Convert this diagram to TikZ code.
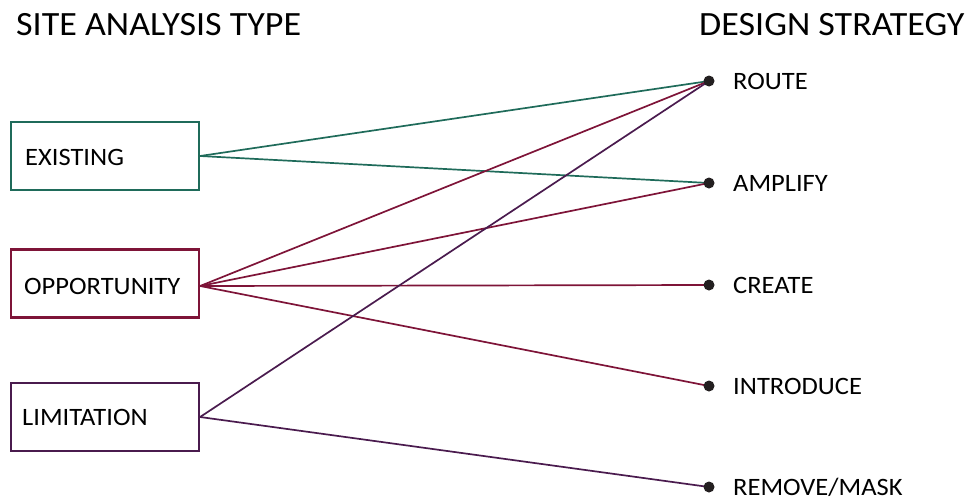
\documentclass[tikz,border=0pt]{standalone}
\usepackage{fontspec}
\setmainfont{Carlito}[FakeStretch=1.06]
\definecolor{exgreen}{HTML}{1F6B5A}
\definecolor{opred}{HTML}{7E1438}
\definecolor{limpurple}{HTML}{4A1B4E}
\definecolor{dotgray}{HTML}{231F20}
\begin{document}
\begin{tikzpicture}[x=1pt,y=-1pt,
  heading/.style={anchor=base west,inner sep=0pt,font=\fontsize{34}{40}\selectfont},
  typebox/.style={draw,line width=2.2pt,minimum width=188pt,minimum height=68pt,inner sep=0pt},
  boxlabel/.style={anchor=west,inner sep=0pt,font=\fontsize{25}{30}\selectfont},
  stratdot/.style={circle,fill=dotgray,minimum size=11pt,inner sep=0pt},
  stratlabel/.style={anchor=west,inner sep=0pt,font=\fontsize{25}{30}\selectfont},
  link/.style={line width=1.7pt}]
\useasboundingbox (0,0) rectangle (976,501);

% column headings
\node[heading] (hleft) at (16,35) {SITE ANALYSIS TYPE};
\node[heading] (hright) at (699,35) {DESIGN STRATEGY};

% site analysis type boxes
\node[typebox,draw=exgreen] (existing) at (105,156) {};
\node[typebox,draw=opred] (opportunity) at (105,283.5) {};
\node[typebox,draw=limpurple] (limitation) at (105,417) {};
\node[boxlabel] (lexisting) at (25,157) {EXISTING};
\node[boxlabel] (lopportunity) at (24,286) {OPPORTUNITY};
\node[boxlabel] (llimitation) at (22,417) {LIMITATION};

% fan-out points on the right edge of each box
\coordinate (exout) at (existing.east);
\coordinate (opout) at ([yshift=-2.5pt]opportunity.east);
\coordinate (limout) at (limitation.east);

% strategy anchors
\coordinate (route) at (709,81);
\coordinate (amplify) at (709,183);
\coordinate (create) at (709,285);
\coordinate (introduce) at (709,386);
\coordinate (remove) at (709,487);

% connectors
\draw[link,exgreen] (exout) -- (route);
\draw[link,exgreen] (exout) -- (amplify);
\draw[link,opred] (opout) -- (route);
\draw[link,opred] (opout) -- (amplify);
\draw[link,opred] (opout) -- (create);
\draw[link,opred] (opout) -- (introduce);
\draw[link,limpurple] (limout) -- (route);
\draw[link,limpurple] (limout) -- (remove);

% strategy dots and labels
\foreach \n/\t in {route/ROUTE,amplify/AMPLIFY,create/CREATE,introduce/INTRODUCE,remove/REMOVE\slash MASK}{
  \node[stratdot] (d\n) at (\n) {};
  \node[stratlabel] (l\n) at ([xshift=24pt]\n) {\t};
}
\end{tikzpicture}
\end{document}
